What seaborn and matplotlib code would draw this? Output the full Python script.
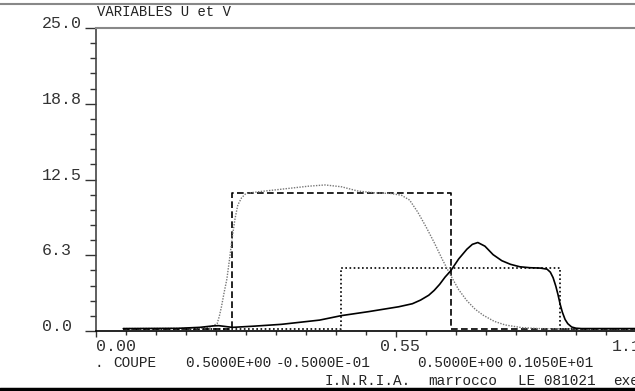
import numpy as np
import pandas as pd
import seaborn as sns
import matplotlib
matplotlib.use('Agg')
import matplotlib.pyplot as plt
from matplotlib.lines import Line2D
from matplotlib.ticker import MultipleLocator
from matplotlib.transforms import ScaledTranslation

# donnees
x_u0 = [0.05, 0.25, 0.25, 0.65, 0.65, 1.05]
u0 = [0.15, 0.15, 11.4, 11.4, 0.15, 0.15]

x_v0 = [0.05, 0.45, 0.45, 0.85, 0.85, 1.05]
v0 = [0.15, 0.15, 5.17, 5.17, 0.15, 0.15]

x_u = [0.05, 0.19, 0.21, 0.222, 0.226, 0.23, 0.235, 0.24, 0.245, 0.25, 0.255, 0.26,
       0.267, 0.275, 0.30, 0.33, 0.36, 0.39, 0.42, 0.45, 0.48, 0.51, 0.54, 0.56,
       0.575, 0.59, 0.605, 0.62, 0.635, 0.65, 0.665, 0.68, 0.695, 0.71, 0.73, 0.75,
       0.78, 0.81, 0.85, 1.05]
u = [0.2, 0.22, 0.35, 0.6, 1.2, 2.0, 3.2, 4.3, 6.0, 7.8, 9.3, 10.4,
     11.0, 11.35, 11.5, 11.65, 11.8, 11.95, 12.05, 11.9, 11.55, 11.4, 11.35, 11.2,
     10.8, 9.8, 8.6, 7.3, 5.9, 4.6, 3.4, 2.5, 1.8, 1.3, 0.8, 0.5,
     0.28, 0.2, 0.18, 0.18]

x_v = [0.05, 0.15, 0.19, 0.215, 0.225, 0.25, 0.29, 0.34, 0.41, 0.45, 0.50, 0.555,
       0.58, 0.595, 0.61, 0.62, 0.63, 0.64, 0.65, 0.665, 0.68, 0.69, 0.70, 0.713,
       0.728, 0.744, 0.76, 0.777, 0.796, 0.815, 0.827, 0.833, 0.838, 0.843, 0.847,
       0.851, 0.855, 0.86, 0.865, 0.872, 0.88, 0.89, 1.05]
v = [0.2, 0.22, 0.3, 0.42, 0.44, 0.3, 0.4, 0.55, 0.9, 1.27, 1.6, 2.0,
     2.25, 2.55, 2.95, 3.35, 3.85, 4.45, 4.95, 5.95, 6.75, 7.15, 7.3, 7.0,
     6.3, 5.8, 5.5, 5.3, 5.22, 5.19, 5.1, 4.85, 4.4, 3.7, 3.0,
     2.2, 1.55, 0.95, 0.6, 0.33, 0.23, 0.2, 0.2]

xticks = [0.0, 0.55, 1.1]
xlabels = ['0.00', '0.55', '1.10']
yticks = [0.0, 6.25, 12.5, 18.75, 25.0]
ylabels = ['0.0', '6.3', '12.5', '18.8', '25.0']

sns.set_style('ticks')
plt.rcParams['font.family'] = ['Liberation Mono', 'DejaVu Sans Mono']

W, H = 635, 391
fig = plt.figure(figsize=(W / 100, H / 100), dpi=100)
# l'axe depasse a droite, comme sur l'original (image coupee)
ax = fig.add_axes([96 / W, (H - 331) / H, 600 / W, 303 / H])

sns.lineplot(x=x_u0, y=u0, ax=ax, estimator=None, sort=False, color='black',
             lw=1.2, linestyle=(0, (4, 2)))
sns.lineplot(x=x_v0, y=v0, ax=ax, estimator=None, sort=False, color='black',
             lw=1.2, linestyle=(0, (1, 1.5)))
sns.lineplot(x=x_u, y=u, ax=ax, estimator=None, sort=False, color='#777777',
             lw=1.0, linestyle=(0, (1, 1)))
sns.lineplot(x=x_v, y=v, ax=ax, estimator=None, sort=False, color='black', lw=1.2)

ax.set_xlim(0, 1.1)
ax.set_ylim(0, 25)
ax.set_xlabel('')
ax.set_ylabel('')

ax.spines['right'].set_visible(False)
ax.spines['top'].set_visible(True)
ax.spines['top'].set_color('#888888')
ax.spines['top'].set_linewidth(1.5)
ax.spines['left'].set_color('#444444')
ax.spines['left'].set_linewidth(1.2)
ax.spines['bottom'].set_color('black')
ax.spines['bottom'].set_linewidth(1.2)

ax.set_xticks(xticks)
ax.set_xticklabels(xlabels)
ax.set_yticks(yticks)
ax.set_yticklabels(ylabels, ha='left', va='baseline')
ax.xaxis.set_minor_locator(MultipleLocator(0.055))
ax.yaxis.set_minor_locator(MultipleLocator(1.25))

ax.tick_params(axis='x', which='both', bottom=True, top=False)
ax.tick_params(axis='y', which='both', left=True, right=False)
ax.tick_params(axis='x', which='major', direction='out', length=4, width=1,
               color='#333333', pad=1.5, labelsize=12, labelcolor='#333333')
ax.tick_params(axis='x', which='minor', direction='out', length=3, width=1,
               color='#333333')
ax.tick_params(axis='y', which='major', direction='out', length=8, width=1,
               color='#333333', pad=31, labelsize=12, labelcolor='#333333')
ax.tick_params(axis='y', which='minor', direction='out', length=4.3, width=1,
               color='#333333')

# decalage des etiquettes en x comme sur l'original
offsets = [(0, 'left'), (4, 'center'), (-84, 'left')]
for lab, (dx, ha) in zip(ax.get_xticklabels(), offsets):
    lab.set_ha(ha)
    lab.set_transform(lab.get_transform() + ScaledTranslation(dx / 100, 0, fig.dpi_scale_trans))

# lignes du cadre de la page
fig.add_artist(Line2D([0, 1], [1 - 4 / H] * 2, transform=fig.transFigure,
                      color='#888888', lw=1.5))
fig.add_artist(Line2D([0, 1], [1 - 389 / H] * 2, transform=fig.transFigure,
                      color='black', lw=2.5))

def txt(px, py, s, size=10.4):
    fig.text(px / W, 1 - py / H, s, ha='left', va='center', fontsize=size, color='#222222')

txt(97, 12, 'VARIABLES U et V', size=10)
txt(94, 363, '.')
txt(113, 363, 'COUPE')
txt(185, 363, '0.5000E+00')
txt(276, 363, '-0.5000E-01')
txt(417, 363, '0.5000E+00')
txt(507, 363, '0.1050E+01')
txt(325, 381, 'I.N.R.I.A.')
txt(428, 381, 'marrocco')
txt(518, 381, 'LE 081021')
txt(613, 381, 'exe')

fig.savefig('out.png', dpi=100)
